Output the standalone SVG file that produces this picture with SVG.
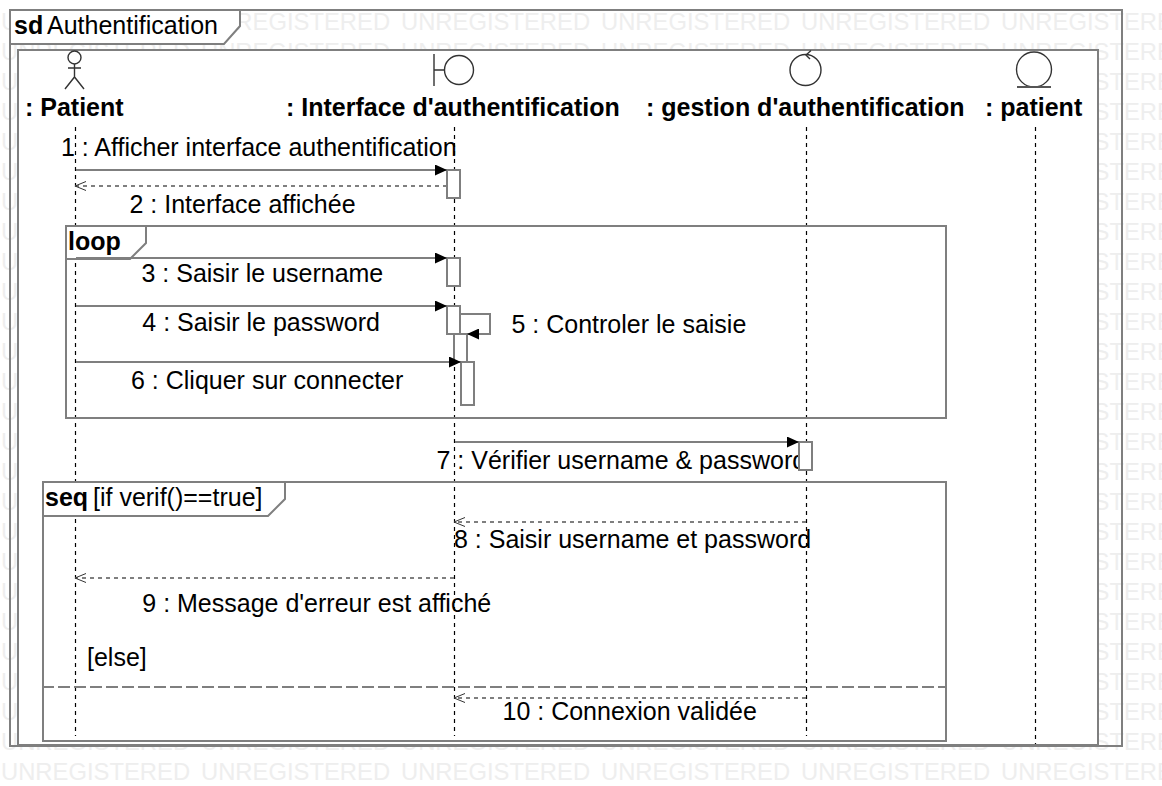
<svg xmlns="http://www.w3.org/2000/svg" xmlns:xlink="http://www.w3.org/1999/xlink" width="1162" height="786" viewBox="0 0 1162 786">
<style>
text{font-family:"Liberation Sans",Arial,sans-serif;font-size:25px;fill:#000}
.wm{fill:#eee;font-size:23.8px}
.b{font-weight:bold}
.fr{fill:none;stroke:#7f7f7f;stroke-width:2}
.act{fill:#fff;stroke:#7f7f7f;stroke-width:2}
.ll{fill:none;stroke:#000;stroke-width:1.2;stroke-dasharray:4 4}
.msg{fill:none;stroke:#7f7f7f;stroke-width:2}
.ret{fill:none;stroke:#7f7f7f;stroke-width:2;stroke-dasharray:4 4}
.ic{fill:none;stroke:#333;stroke-width:1.4}
</style>
<defs>
<marker id="fa" markerUnits="userSpaceOnUse" markerWidth="12" markerHeight="11" refX="12" refY="5.500" orient="auto"><path d="M0 0L12 5.500L0 11Z" fill="#000"/></marker>
<marker id="oa" markerUnits="userSpaceOnUse" markerWidth="12" markerHeight="10" refX="11" refY="5" orient="auto"><path d="M0 .5L11 5L0 9.500" fill="none" stroke="#333" stroke-width="1"/></marker>
<g id="wr">
<text class="wm" x="1" y="0">UNREGISTERED</text><text class="wm" x="201" y="0">UNREGISTERED</text><text class="wm" x="401" y="0">UNREGISTERED</text><text class="wm" x="601" y="0">UNREGISTERED</text><text class="wm" x="801" y="0">UNREGISTERED</text><text class="wm" x="1001" y="0">UNREGISTERED</text>
</g>
</defs>
<rect width="1162" height="786" fill="#fff"/>
<g id="watermark">
<use xlink:href="#wr" y="30"/><use xlink:href="#wr" y="60"/><use xlink:href="#wr" y="90"/><use xlink:href="#wr" y="120"/><use xlink:href="#wr" y="150"/><use xlink:href="#wr" y="180"/><use xlink:href="#wr" y="210"/><use xlink:href="#wr" y="240"/><use xlink:href="#wr" y="270"/><use xlink:href="#wr" y="300"/><use xlink:href="#wr" y="330"/><use xlink:href="#wr" y="360"/><use xlink:href="#wr" y="390"/><use xlink:href="#wr" y="420"/><use xlink:href="#wr" y="450"/><use xlink:href="#wr" y="480"/><use xlink:href="#wr" y="510"/><use xlink:href="#wr" y="540"/><use xlink:href="#wr" y="570"/><use xlink:href="#wr" y="600"/><use xlink:href="#wr" y="630"/><use xlink:href="#wr" y="660"/><use xlink:href="#wr" y="690"/><use xlink:href="#wr" y="720"/><use xlink:href="#wr" y="750"/><use xlink:href="#wr" y="780"/>
</g>
<g id="frame-outer">
<rect class="fr" x="10" y="10" width="1112" height="736"/>
</g>
<g id="frame-inner">
<rect class="fr" x="18" y="50" width="1080" height="695" style="fill:#fff"/>
</g>
<g id="frame-label">
<path class="fr" style="fill:#fff" d="M10 10H240V26L224 44H10Z"/>
<text class="b" x="14" y="34">sd</text>
<text x="47" y="34">Authentification</text>
</g>
<g id="n-patient-actor">
<circle class="ic" cx="74.500" cy="57.500" r="6.500"/>
<path class="ic" d="M74.500 64V77M68 68H81M65 89L74.500 77L84 89"/>
<text class="b" x="25" y="116">: Patient</text>
</g>
<g id="n-interface">
<circle class="ic" cx="459" cy="70" r="14.500"/>
<path class="ic" d="M434 54V86M434 70H444.500"/>
<text class="b" x="286" y="116">: Interface d'authentification</text>
</g>
<g id="n-gestion">
<circle class="ic" cx="805.500" cy="70" r="15.500"/>
<path class="ic" d="M811 50.500L806 55L810 59"/>
<text class="b" x="646" y="116">: gestion d'authentification</text>
</g>
<g id="n-patient-entity">
<circle class="ic" cx="1034" cy="69.500" r="17.500"/>
<path d="M1017 87H1051" fill="none" stroke="#555" stroke-width="2"/>
<text class="b" x="985" y="116">: patient</text>
</g>
<g id="lifelines">
<path class="ll" d="M75.500 127V736"/>
<path class="ll" d="M454.500 127V736"/>
<path class="ll" d="M806.500 127V736"/>
<path class="ll" d="M1035.500 127V744"/>
</g>
<g id="fragment-loop">
<rect class="fr" x="66" y="226" width="880" height="192"/>
<path class="fr" style="fill:#fff" d="M66 226H146V243L130 259H66Z"/>
<text class="b" x="68" y="250">loop</text>
</g>
<g id="fragment-seq">
<rect class="fr" x="43" y="482" width="903" height="259"/>
<path class="fr" style="fill:#fff" d="M43 482H285V499L268 516H43Z"/>
<text class="b" x="45" y="506">seq</text>
<text x="93" y="506">[if verif()==true]</text>
<path d="M42 687H946" fill="none" stroke="#7f7f7f" stroke-width="2" stroke-dasharray="12 4"/>
<text x="87" y="666">[else]</text>
</g>
<g id="labels">
<text x="61" y="156">1 : Afficher interface authentification</text>
<text x="129.500" y="213">2 : Interface affichée</text>
<text x="141.500" y="282">3 : Saisir le username</text>
<text x="142.300" y="331">4 : Saisir le password</text>
<text x="511.500" y="333">5 : Controler le saisie</text>
<text x="131" y="389">6 : Cliquer sur connecter</text>
<text x="436.500" y="469">7 : Vérifier username &amp; password</text>
<text x="454" y="548">8 : Saisir username et password</text>
<text x="142.300" y="612">9 : Message d'erreur est affiché</text>
<text x="502.500" y="720">10 : Connexion validée</text>
</g>
<g id="activations">
<rect class="act" x="447" y="170" width="13" height="28"/>
<rect class="act" x="447" y="258" width="13" height="28"/>
<rect class="act" x="447" y="306" width="13" height="28"/>
<rect class="act" x="454" y="334" width="13" height="28"/>
<rect class="act" x="461" y="362" width="13" height="43"/>
<rect class="act" x="799" y="442" width="13" height="28"/>
</g>
<g id="connectors">
<path class="msg" marker-end="url(#fa)" d="M76 170H447"/>
<path class="ret" marker-end="url(#oa)" d="M447 186H75"/>
<path class="msg" marker-end="url(#fa)" d="M76 258H447"/>
<path class="msg" marker-end="url(#fa)" d="M76 306H447"/>
<path class="msg" marker-end="url(#fa)" d="M460 314H490V334H467"/>
<path class="msg" marker-end="url(#fa)" d="M76 362H461"/>
<path class="msg" marker-end="url(#fa)" d="M455 442H799"/>
<path class="ret" marker-end="url(#oa)" d="M806 522H454"/>
<path class="ret" marker-end="url(#oa)" d="M454 578H75"/>
<path class="ret" marker-end="url(#oa)" d="M806 698H454"/>
</g>
</svg>
